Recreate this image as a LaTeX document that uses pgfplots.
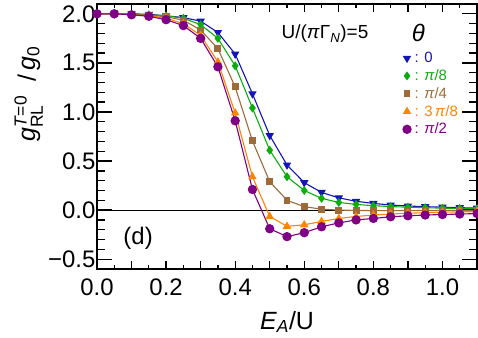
\documentclass[border=0pt]{standalone}
\usepackage{fontspec}
\setmainfont{Liberation Sans}
\usepackage{amsmath}
\usepackage{pgfplots}
\pgfplotsset{compat=1.18}
\usepackage{pgfplotstable}
\definecolor{cblue}{rgb}{0.08,0.08,0.72}
\definecolor{cgreen}{rgb}{0.05,0.68,0.05}
\definecolor{cbrown}{rgb}{0.62,0.42,0.22}
\definecolor{corange}{rgb}{1.0,0.52,0.0}
\definecolor{cpurple}{rgb}{0.50,0.0,0.52}

\pgfplotstableread{
x      t0      t1      t2      t3      t4
0.00   2.000   2.000   2.000   2.000   2.000
0.05   2.000   2.000   2.000   2.000   2.000
0.10   2.000   1.995   1.995   1.990   1.990
0.15   1.995   1.990   1.985   1.980   1.975
0.20   1.980   1.980   1.970   1.955   1.940
0.25   1.962   1.955   1.935   1.900   1.880
0.30   1.925   1.890   1.835   1.780   1.750
0.35   1.810   1.750   1.645   1.510   1.460
0.40   1.590   1.470   1.255   0.990   0.910
0.45   1.185   1.040   0.705   0.340   0.210
0.50   0.760   0.610   0.290  -0.065  -0.190
0.55   0.460   0.340   0.100  -0.165  -0.270
0.60   0.280   0.200   0.035  -0.150  -0.230
0.65   0.180   0.120   0.010  -0.115  -0.170
0.70   0.125   0.078   0.000  -0.085  -0.130
0.75   0.090   0.058  -0.003  -0.065  -0.100
0.80   0.068   0.045  -0.005  -0.050  -0.085
0.85   0.052   0.036  -0.005  -0.040  -0.068
0.90   0.042   0.030  -0.005  -0.032  -0.058
0.95   0.035   0.025  -0.004  -0.026  -0.050
1.00   0.030   0.020  -0.004  -0.022  -0.045
1.05   0.025   0.017  -0.003  -0.018  -0.040
1.10   0.020   0.014  -0.003  -0.015  -0.035
}\datatable

\pgfplotsset{
  base/.style={
    scale only axis, width=380bp, height=265bp,
    xmin=0, xmax=1.1, ymin=-0.6, ymax=2.1,
    tick align=inside,
    every tick/.style={black, line width=1.3bp},
    tick label style={font=\fontsize{24}{26}\selectfont},
  }
}

\begin{document}
\begin{tikzpicture}
% x ticks (shorter)
\begin{axis}[base,
  axis line style={draw=none},
  ytick=\empty,
  xtick={0,0.1,0.2,0.3,0.4,0.5,0.6,0.7,0.8,0.9,1.0,1.1},
  xticklabels={0.0,,0.2,,0.4,,0.6,,0.8,,1.0,},
  minor x tick num=1,
  major tick length=8bp, minor tick length=4bp,
  xticklabel style={inner sep=1bp, yshift=-9bp},
]
\end{axis}
% main axis with y ticks and data
\begin{axis}[base,
  axis line style={line width=1.6bp},
  xtick=\empty,
  ytick={-0.5,0,0.5,1.0,1.5,2.0},
  yticklabels={−0.5,0.0,0.5,1.0,1.5,2.0},
  minor y tick num=4,
  major tick length=15bp, minor tick length=8bp,
  yticklabel style={inner sep=1.5bp},
  xlabel={\textit{E}\textsubscript{\textit{A}}/U},
  xlabel style={font=\fontsize{25}{27}\selectfont, at={(axis description cs:0.5,-0.2)}, anchor=center},
  ylabel={$\text{\textit{g}}^{\text{\textit{T}=0}}_{\text{RL}}$\ \ /\,\textit{g}\textsubscript{0}},
  ylabel style={font=\fontsize{25}{27}\selectfont, at={(axis description cs:-0.18,0.66)}, anchor=center},
  legend style={at={(axis cs:0.885,1.63)}, anchor=north west, draw=none, fill=none,
    font=\fontsize{15}{17}\selectfont, row sep=1.5bp, inner sep=0pt,
    /tikz/every odd column/.append style={column sep=1.5bp}},
  legend cell align=left,
  legend image code/.code={\draw[#1] plot coordinates {(0cm,0cm)};},
]
\addplot[black, line width=0.7bp, forget plot] coordinates {(0,0) (1.1,0)};
\addplot[cblue, line width=1.1bp, mark=triangle*, mark size=3.8bp, mark options={rotate=180}] table[x=x,y=t0] {\datatable};
\addlegendentry{\textcolor{cblue}{: 0}}
\addplot[cgreen, line width=1.1bp, mark=diamond*, mark size=3.6bp] table[x=x,y=t1] {\datatable};
\addlegendentry{\textcolor{cgreen}{: \textit{π}/8}}
\addplot[cbrown, line width=1.1bp, mark=square*, mark size=2.9bp] table[x=x,y=t2] {\datatable};
\addlegendentry{\textcolor{cbrown}{: \textit{π}/4}}
\addplot[corange, line width=1.1bp, mark=triangle*, mark size=3.8bp] table[x=x,y=t3] {\datatable};
\addlegendentry{\textcolor{corange}{: 3\,\textit{π}/8}}
\addplot[cpurple, line width=1.1bp, mark=*, mark size=4.1bp] table[x=x,y=t4] {\datatable};
\addlegendentry{\textcolor{cpurple}{: \textit{π}/2}}
\node[font=\fontsize{19}{21}\selectfont] at (axis cs:0.66,1.795) {U/(\textit{π}Γ\textsubscript{\textit{N}})=5};
\node[font=\fontsize{24}{26}\selectfont\itshape] at (axis cs:0.93,1.80) {θ};
\node[font=\fontsize{24}{26}\selectfont] at (axis cs:0.119,-0.29) {(d)};
\end{axis}
\pgfresetboundingbox
\path[use as bounding box] (-97bp,-69bp) rectangle (381bp,269bp);
\end{tikzpicture}
\end{document}
